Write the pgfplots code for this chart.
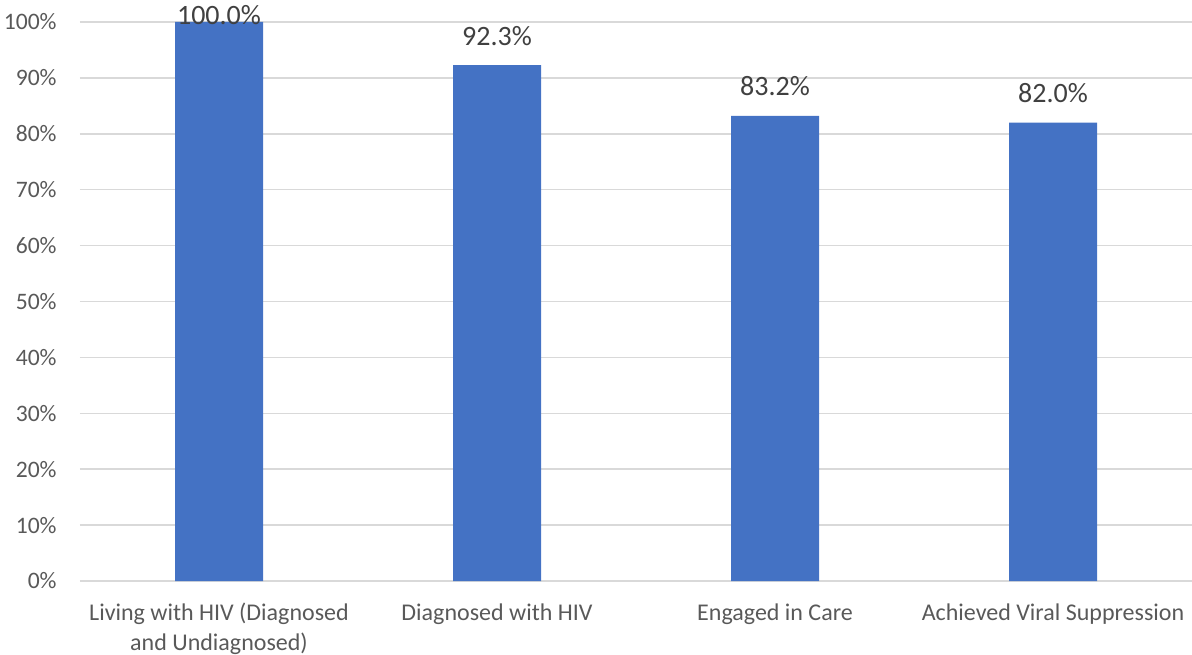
\documentclass[border=0pt]{standalone}
\usepackage{pgfplots}
\pgfplotsset{compat=1.18}
\usepackage{fontspec}
\setmainfont{Carlito}
\definecolor{barblue}{HTML}{4472C4}
\definecolor{ticktext}{HTML}{595959}
\definecolor{labeltext}{HTML}{404040}
\definecolor{gridc}{HTML}{D9D9D9}
\begin{document}
\begin{tikzpicture}[x=1pt,y=1pt]
\path[use as bounding box] (-40,-36.5) rectangle (556,290.5);
\begin{axis}[
  at={(0,0)}, anchor=south west,
  width=556pt, height=279.5pt, scale only axis,
  xmin=-0.5, xmax=3.5, ymin=0, ymax=100,
  ytick={0,10,...,100},
  yticklabels={0\%,10\%,20\%,30\%,40\%,50\%,60\%,70\%,80\%,90\%,100\%},
  xtick={0,1,2,3},
  xticklabels={{\strut Living with HIV (Diagnosed\\and Undiagnosed)},{\strut Diagnosed with HIV},{\strut Engaged in Care},{\strut Achieved Viral Suppression}},
  axis lines*=left,
  y axis line style={draw=none},
  x axis line style={draw=gridc, line width=0.75pt},
  major tick length=0pt,
  ymajorgrids,
  grid style={draw=gridc, line width=0.75pt},
  yticklabel style={font=\fontsize{11.8}{13}\selectfont, color=ticktext, anchor=east, inner sep=0pt, xshift=-11.5pt},
  xticklabel style={font=\fontsize{12}{15}\selectfont, color=ticktext, align=center, anchor=north, inner sep=0pt, yshift=-9pt},
  /pgf/number format/assume math mode=true,
  clip=false,
]
\addplot[ybar, bar width=44pt, fill=barblue, draw=none,
  visualization depends on={y \as \rawy},
  nodes near coords={\pgfmathprintnumber[fixed,fixed zerofill,precision=1,assume math mode=true]{\pgfplotspointmeta}\%},
  nodes near coords style={font=\fontsize{14}{16}\selectfont, color=labeltext, anchor=base, inner sep=0pt, yshift={(\rawy>99.5) ? -1.5 : 10}},
] coordinates {(0,100) (1,92.3) (2,83.2) (3,82.0)};
\end{axis}
\end{tikzpicture}
\end{document}
